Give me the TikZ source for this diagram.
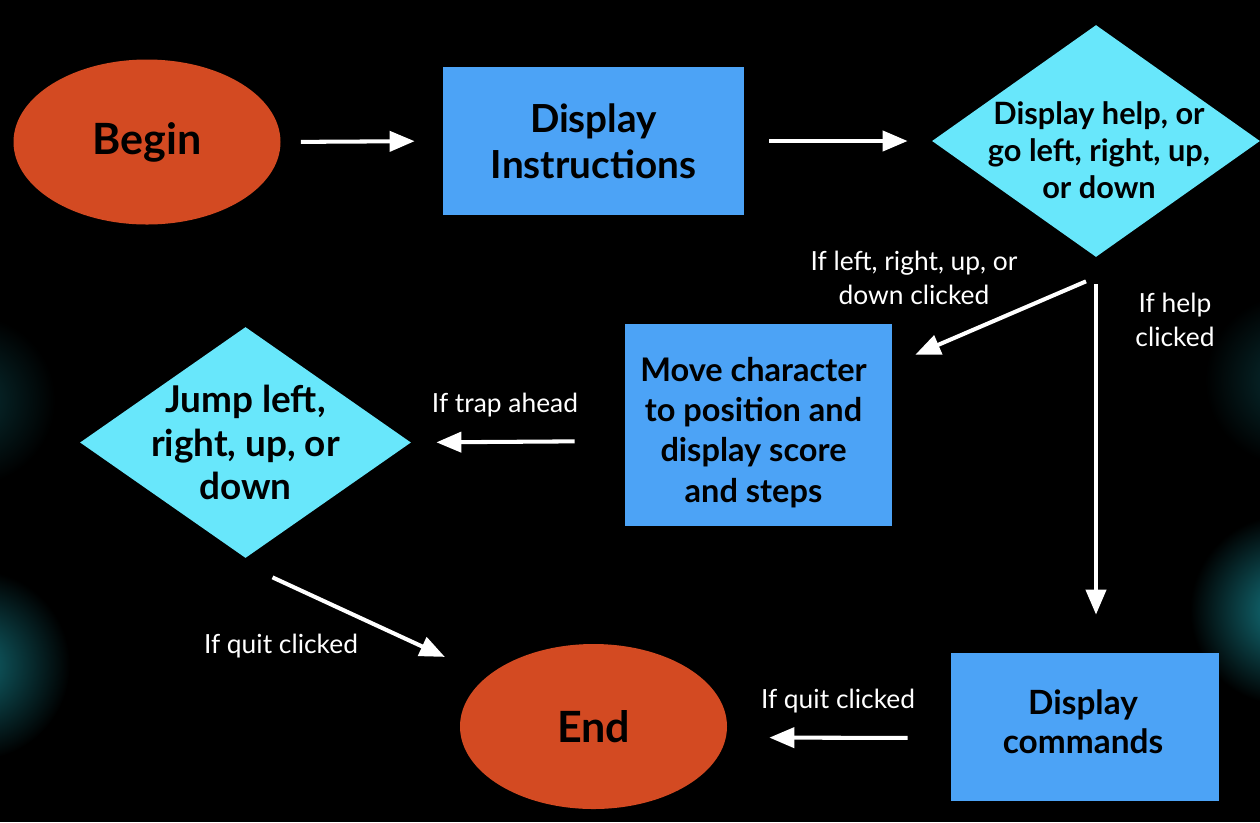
\documentclass[tikz,border=0pt]{standalone}
\usepackage{fontspec}
\setmainfont{Lato}
\usepackage{tikz}
\usetikzlibrary{arrows.meta, shapes.geometric, positioning}

\definecolor{termred}{RGB}{211,74,34}
\definecolor{procblue}{RGB}{76,163,246}
\definecolor{askcyan}{RGB}{104,231,251}
\definecolor{glowcyan}{RGB}{20,120,130}

\begin{document}
\begin{tikzpicture}[
        terminal/.style={ellipse, fill=termred, minimum width=5.34cm, minimum height=3.3cm, inner sep=0pt, font=\bfseries\fontsize{24.5}{28}\selectfont},
        process/.style={rectangle, fill=procblue, inner sep=0pt, align=center},
        decision/.style={diamond, fill=askcyan, inner sep=0pt},
        dtext/.style={align=center, font=\bfseries},
        lbl/.style={white, align=center, font=\fontsize{15}{19}\selectfont},
        arr/.style={draw=white, line width=2.3pt, -{Triangle[length=0.5cm, width=0.4cm]}}
    ]
        % page and glows
        \fill[black] (0,0) rectangle (25.2,-16.44);
        \useasboundingbox (0,0) rectangle (25.2,-16.44);
        \begin{scope}
            \clip (0,0) rectangle (25.2,-16.44);
            \shade[inner color=glowcyan!40!black, outer color=black] (-0.6,-8.0) circle (1.7);
            \shade[inner color=glowcyan!85!black, outer color=black] (-0.5,-13.3) circle (1.9);
            \shade[inner color=glowcyan!40!black, outer color=black] (25.8,-7.6) circle (1.7);
            \shade[inner color=glowcyan, outer color=black] (25.7,-12.2) circle (1.9);
        \end{scope}

        % nodes
        \node[terminal] (begin) at (2.94,-2.84) {Begin};
        \node[process, minimum width=6.02cm, minimum height=2.96cm, font=\bfseries\fontsize{22}{26}\selectfont] (instr) at (11.87,-2.82) {Display\\Instructions};
        \node[decision, minimum width=6.56cm, minimum height=4.64cm] (ask) at (21.92,-2.82) {};
        \node[dtext, font=\bfseries\fontsize{17.5}{21}\selectfont] (askt) at ([shift={(0.06,-0.18)}]ask) {Display help, or\\go left, right, up,\\or down};
        \node[process, minimum width=5.34cm, minimum height=4.04cm] (move) at (15.17,-8.5) {};
        \node[dtext, font=\bfseries\fontsize{18.5}{22.9}\selectfont] (movet) at ([shift={(-0.1,-0.15)}]move) {Move character\\to position and\\display score\\and steps};
        \node[decision, minimum width=6.62cm, minimum height=4.62cm] (jump) at (4.91,-8.85) {};
        \node[dtext, font=\bfseries\fontsize{21}{24.7}\selectfont] (jumpt) at (jump) {Jump left,\\right, up, or\\down};
        \node[terminal] (end) at (11.87,-14.53) {End};
        \node[process, minimum width=5.36cm, minimum height=2.96cm] (cmds) at (21.7,-14.54) {};
        \node[dtext, font=\bfseries\fontsize{19}{22}\selectfont] (cmdst) at ([shift={(-0.04,0.1)}]cmds) {Display\\commands};

        % connectors
        \draw[arr, shorten <=0.4cm, shorten >=0.56cm] (begin.east) -- (instr.west);
        \draw[arr, shorten <=0.5cm, shorten >=0.48cm] (instr.east) -- (ask.west);
        \draw[arr] ([shift={(-0.2,-0.48)}]ask.south) -- ([shift={(0.46,-0.62)}]move.north east);
        \draw[arr, shorten <=0.54cm, shorten >=0.76cm] (ask.south) -- (ask.south |- cmds.north);
        \draw[arr, shorten <=1cm, shorten >=0.5cm] ([yshift=-0.32cm]move.west) -- (jump.east);
        \draw[arr] ([shift={(0.54,-0.38)}]jump.south) -- ([shift={(-1.08,0.22)}]end.north west);
        \draw[arr, shorten <=0.86cm, shorten >=0.84cm] ([yshift=-0.22cm]cmds.west) -- ([yshift=-0.22cm]end.east);

        % labels
        \node[lbl] (lblmove) at (18.28,-5.56) {If left, right, up, or\\down clicked};
        \node[lbl] (lblhelp) at (23.5,-6.4) {If help\\clicked};
        \node[lbl] (lbltrap) at (10.1,-8.1) {If trap ahead};
        \node[lbl] (lblquita) at (5.62,-12.92) {If quit clicked};
        \node[lbl] (lblquitb) at (16.76,-14.02) {If quit clicked};
    \end{tikzpicture}
\end{document}
